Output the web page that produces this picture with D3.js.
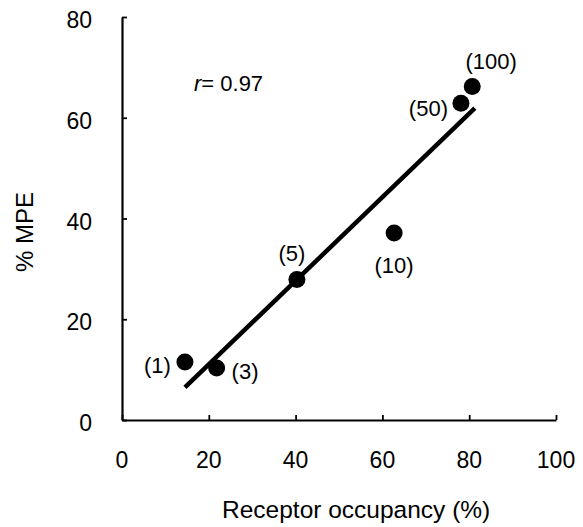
<!DOCTYPE html>
<html><head><meta charset="utf-8">
<script src="https://cdn.jsdelivr.net/npm/d3@7"></script>
<style>body{margin:0;background:#fff}svg{display:block}text{font-family:"Liberation Sans",Arial,sans-serif;fill:#000}</style>
</head><body>
<svg id="c" width="583" height="527"></svg>
<script>
const doses = ["(1)", "(3)", "(5)", "(10)", "(50)", "(100)"];
const occupancy = [14.5, 21.8, 40.3, 62.7, 78.1, 80.7];
const mpe = [11.5, 10.3, 27.9, 37.1, 62.9, 66.2];
const fitX = [14.5, 81.3];
const fitY = [6.5, 61.9];
const xTicks = [0, 20, 40, 60, 80, 100];
const yTicks = [0, 20, 40, 60, 80];
const rText = "0.97";

// label layout offsets (px) relative to each point
const labelLayout = [
  {dx: -14, dy: 3, anchor: "end"},
  {dx: 15, dy: 3, anchor: "start"},
  {dx: -5, dy: -26, anchor: "middle"},
  {dx: 0, dy: 32, anchor: "middle"},
  {dx: -13, dy: 5, anchor: "end"},
  {dx: 19, dy: -25, anchor: "middle"}
];

const svg = d3.select("#c");
const x = d3.scaleLinear().domain([0, 100]).range([122, 556]);
const y = d3.scaleLinear().domain([0, 80]).range([420, 17]);

const xAxis = svg.append("g").attr("transform", "translate(0,420)")
  .call(d3.axisBottom(x).tickValues(xTicks).tickSize(-5).tickSizeOuter(0).tickFormat(""));
const yAxis = svg.append("g").attr("transform", "translate(122,0)")
  .call(d3.axisLeft(y).tickValues(yTicks).tickSize(-5).tickSizeOuter(0).tickFormat(""));
[xAxis, yAxis].forEach(a => {
  a.select(".domain").attr("stroke", "#000").attr("stroke-width", 2.2);
  a.selectAll(".tick line").attr("stroke", "#000").attr("stroke-width", 1.8);
});

svg.selectAll(".xtl").data(xTicks).enter().append("text")
  .attr("x", d => x(d)).attr("y", 468).attr("text-anchor", "middle")
  .attr("font-size", 23).text(d => d);
svg.selectAll(".ytl").data(yTicks).enter().append("text")
  .attr("x", 92).attr("y", d => y(d) + 3).attr("dominant-baseline", "central")
  .attr("text-anchor", "end").attr("font-size", 23).text(d => d);

svg.append("text").attr("x", 222).attr("y", 518).attr("font-size", 24.5)
  .text("Receptor occupancy (%)");
svg.append("text").attr("transform", "translate(24,232) rotate(-90)")
  .attr("text-anchor", "middle").attr("dominant-baseline", "central")
  .attr("font-size", 24).text("% MPE");

const rt = svg.append("text").attr("x", 194).attr("y", 91).attr("font-size", 22);
rt.append("tspan").attr("font-style", "italic").text("r");
rt.append("tspan").text("= " + rText);

svg.append("line")
  .attr("x1", x(fitX[0])).attr("y1", y(fitY[0]))
  .attr("x2", x(fitX[1])).attr("y2", y(fitY[1]))
  .attr("stroke", "#000").attr("stroke-width", 4.5);

const pts = doses.map((d, i) => ({d, xv: occupancy[i], yv: mpe[i], l: labelLayout[i]}));
svg.selectAll(".pt").data(pts).enter().append("circle")
  .attr("cx", d => x(d.xv)).attr("cy", d => y(d.yv)).attr("r", 8.5).attr("fill", "#000");
svg.selectAll(".lb").data(pts).enter().append("text")
  .attr("x", d => x(d.xv) + d.l.dx).attr("y", d => y(d.yv) + d.l.dy)
  .attr("text-anchor", d => d.l.anchor).attr("dominant-baseline", "central")
  .attr("font-size", 22).text(d => d.d);
</script>
</body></html>
